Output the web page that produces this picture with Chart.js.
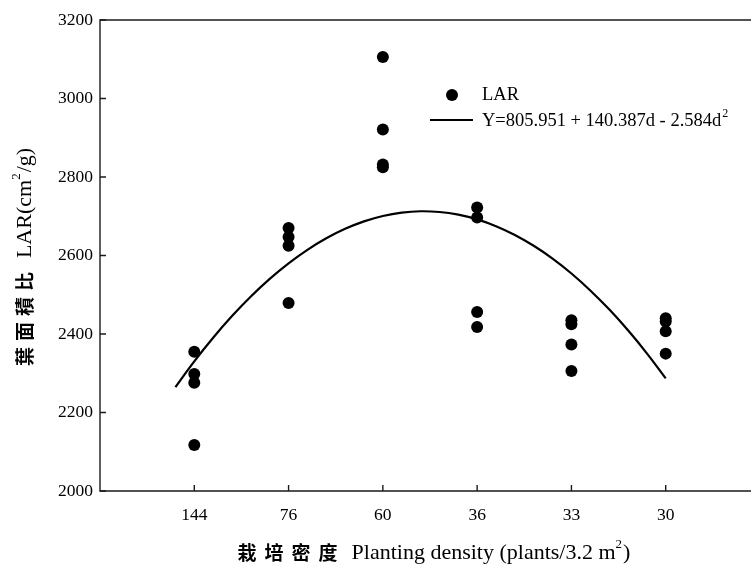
<!DOCTYPE html>
<html><head><meta charset="utf-8">
<script src="https://cdn.jsdelivr.net/npm/chart.js@4.4.1/dist/chart.umd.min.js"></script>
<style>
html,body{margin:0;padding:0;background:#fff;overflow:hidden;width:751px;height:567px}
#wrap{position:absolute;left:0;top:0;width:770px;height:567px}
</style>
</head><body><div id="wrap"><canvas id="c" width="770" height="567"></canvas></div>
<script>
// ---- data ----
const densityLabels = ['144', '76', '60', '36', '33', '30'];
const densityD = [15, 20, 25, 30, 35, 40];
const lar144 = [2355, 2298, 2276, 2117];
const lar76 = [2670, 2647, 2625, 2479];
const lar60 = [3106, 2921, 2832, 2825];
const lar36 = [2722, 2697, 2456, 2418];
const lar33 = [2435, 2425, 2373, 2306];
const lar30 = [2440, 2432, 2407, 2350];
// fitted curve Y = 805.951 + 140.387d - 2.584d^2, values read at d = 14..40
const fitD = [14,15,16,17,18,19,20,21,22,23,24,25,26,27,28,29,30,31,32,33,34,35,36,37,38,39,40];
const fitY = [2264.9,2330.4,2390.6,2445.8,2495.7,2540.5,2580.1,2614.5,2643.8,2667.9,2686.9,2700.6,2709.2,2712.7,2710.9,2704.0,2692.0,2674.7,2652.3,2624.7,2592.0,2554.1,2511.0,2462.8,2409.4,2350.8,2287.0];
const yTickValues = [2000, 2200, 2400, 2600, 2800, 3000, 3200];
const legendPointLabel = 'LAR';
const legendLineLabel = 'Y=805.951 + 140.387d - 2.584d';

const groups = [lar144, lar76, lar60, lar36, lar33, lar30];
const scatterPts = [];
groups.forEach((g, i) => g.forEach(v => scatterPts.push({x: densityD[i], y: v})));
const curvePts = fitD.map((d, i) => ({x: d, y: fitY[i]}));

const SERIF = '"Liberation Serif", "Times New Roman", serif';
const CJK = '"Noto Sans CJK TC", "Noto Sans CJK SC", sans-serif';

function drawMixed(ctx, segs, cx, cy) {
  let total = 0;
  segs.forEach(s => {
    ctx.font = s.font;
    s.w = 0;
    if (s.sp) {
      const chars = [...s.t];
      chars.forEach((ch, k) => { s.w += ctx.measureText(ch).width + (k < chars.length - 1 ? s.sp : 0); });
    } else s.w = ctx.measureText(s.t).width;
    total += s.w + (s.after || 0);
  });
  let x = cx - total / 2;
  ctx.textBaseline = 'middle';
  ctx.textAlign = 'left';
  segs.forEach(s => {
    ctx.font = s.font;
    if (s.sp) {
      [...s.t].forEach(ch => { ctx.fillText(ch, x, cy + (s.dy || 0)); x += ctx.measureText(ch).width + s.sp; });
      x -= s.sp;
    } else { ctx.fillText(s.t, x, cy + (s.dy || 0)); x += s.w; }
    x += (s.after || 0);
  });
}

const decor = {
  id: 'decor',
  afterDatasetsDraw(chart) {
    const ctx = chart.ctx, a = chart.chartArea;
    const xs = chart.scales.x, ys = chart.scales.y;
    ctx.save();
    ctx.strokeStyle = '#1a1a1a';
    ctx.lineWidth = 1.4;
    ctx.beginPath();
    ctx.rect(a.left, a.top, a.right - a.left, a.bottom - a.top);
    ctx.stroke();
    ctx.beginPath();
    yTickValues.forEach(v => { const y = ys.getPixelForValue(v); ctx.moveTo(a.left, y); ctx.lineTo(a.left + 6, y); });
    densityD.forEach(v => { const x = xs.getPixelForValue(v); ctx.moveTo(x, a.bottom); ctx.lineTo(x, a.bottom - 6); });
    ctx.stroke();

    // legend
    ctx.fillStyle = '#000';
    ctx.beginPath(); ctx.arc(452, 95, 6, 0, Math.PI * 2); ctx.fill();
    ctx.strokeStyle = '#000'; ctx.lineWidth = 2;
    ctx.beginPath(); ctx.moveTo(430, 120); ctx.lineTo(473, 120); ctx.stroke();
    ctx.font = '18.5px ' + SERIF;
    ctx.textBaseline = 'middle'; ctx.textAlign = 'left';
    ctx.fillText(legendPointLabel, 482, 95);
    ctx.fillText(legendLineLabel, 482, 121);
    const w = ctx.measureText(legendLineLabel).width;
    ctx.font = '12px ' + SERIF;
    ctx.fillText('2', 482 + w + 1, 114);

    // x title
    drawMixed(ctx, [
      {t: '栽培密度', font: 'bold 19px ' + CJK, sp: 8, after: 14},
      {t: 'Planting density (plants/3.2 m', font: '22px ' + SERIF},
      {t: '2', font: '13px ' + SERIF, dy: -8, after: 1},
      {t: ')', font: '22px ' + SERIF}
    ], 434, 553);

    // y title
    ctx.save();
    ctx.translate(25, 257);
    ctx.rotate(-Math.PI / 2);
    drawMixed(ctx, [
      {t: '葉面積比', font: 'bold 19px ' + CJK, sp: 6, after: 14},
      {t: 'LAR(cm', font: '22px ' + SERIF},
      {t: '2', font: '13px ' + SERIF, dy: -8, after: 1},
      {t: '/g)', font: '22px ' + SERIF}
    ], 0, 0);
    ctx.restore();
    ctx.restore();
  }
};

new Chart(document.getElementById('c'), {
  type: 'scatter',
  data: {
    datasets: [
      {label: 'LAR', data: scatterPts, backgroundColor: '#000', borderColor: '#000', pointRadius: 6, pointHoverRadius: 6, pointBorderWidth: 0},
      {label: 'fit', data: curvePts, showLine: true, borderColor: '#000', borderWidth: 2.2, pointRadius: 0, tension: 0.4, fill: false}
    ]
  },
  options: {
    responsive: false,
    animation: false,
    devicePixelRatio: 1,
    layout: {padding: {top: 20, right: 10, left: 0, bottom: 0}},
    plugins: {legend: {display: false}, tooltip: {enabled: false}},
    scales: {
      x: {
        type: 'linear', min: 10, max: 45,
        afterBuildTicks: s => { s.ticks = densityD.map(v => ({value: v})); },
        afterFit: s => { s.height = 76; },
        grid: {display: false, drawTicks: false},
        border: {display: false},
        ticks: {
          color: '#000', font: {family: SERIF, size: 17.5}, padding: 14, maxRotation: 0, autoSkip: false,
          callback: v => { const i = densityD.indexOf(v); return i >= 0 ? densityLabels[i] : ''; }
        }
      },
      y: {
        min: 2000, max: 3200,
        afterBuildTicks: s => { s.ticks = yTickValues.map(v => ({value: v})); },
        afterFit: s => { s.width = 100; },
        grid: {display: false, drawTicks: false},
        border: {display: false},
        ticks: {color: '#000', font: {family: SERIF, size: 17.5}, padding: 7, callback: v => String(v)}
      }
    }
  },
  plugins: [decor]
});
</script>
</body></html>
